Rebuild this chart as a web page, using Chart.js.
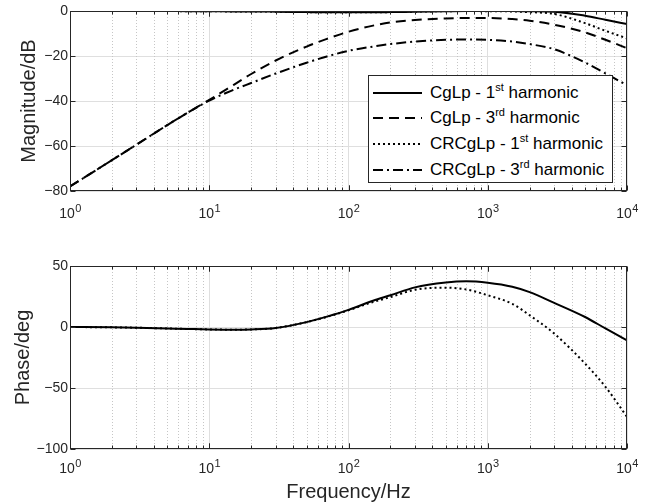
<!DOCTYPE html>
<html>
<head>
<meta charset="utf-8">
<script src="https://cdn.jsdelivr.net/npm/chart.js@4.4.0/dist/chart.umd.min.js"></script>
<style>
  html, body { margin: 0; padding: 0; background: #fff; }
  #wrap { position: relative; width: 646px; height: 504px; font-family: "Liberation Sans", Arial, sans-serif; }
  #magCanvas { position: absolute; left: 0; top: 0; }
  #phaseCanvas { position: absolute; left: 0; top: 240px; }
  #legend { position: absolute; left: 368px; top: 75px; width: 245px; height: 108px; box-sizing: border-box;
            border: 1px solid #262626; background: #fff; }
  .row { position: absolute; left: 4px; height: 26px; display: flex; align-items: center;
         font-size: 17px; color: #000; white-space: nowrap; }
  .row svg { margin-right: 8px; }
  .row sup { font-size: 11px; vertical-align: 0; position: relative; top: -7px; }
</style>
</head>
<body>
<div id="wrap">
  <canvas id="magCanvas" width="646" height="240"></canvas>
  <canvas id="phaseCanvas" width="646" height="264"></canvas>
  <div id="legend"></div>
</div>
<script>
// Bode plot: CgLp vs CRCgLp, 1st and 3rd harmonic

// frequencies the curves were read at (Hz)
const freqHz = [1, 2, 3, 5, 7, 10, 15, 20, 30, 50, 70, 100, 150, 200, 300, 500, 700, 1000, 1500, 2000, 3000, 5000, 7000, 10000];

// magnitude (dB)
const magCgLp1   = [0, 0, 0, 0, -0.1, -0.1, -0.2, -0.2, -0.3, -0.5, -0.6, -0.6, -0.6, -0.5, -0.3, -0.1, 0, 0, 0, -0.1, -0.3, -2.1, -3.9, -5.8];
const magCgLp3   = [-78, -66.3, -59.4, -50.7, -45.2, -39.5, -32.8, -28, -22, -15.8, -12.4, -9.2, -6.5, -5.1, -4, -3.3, -3.1, -3.1, -3.6, -4.3, -6.1, -9.5, -12.8, -16.5];
const magCRCgLp1 = [0, 0, 0, 0, -0.1, -0.1, -0.2, -0.2, -0.3, -0.5, -0.6, -0.6, -0.6, -0.5, -0.3, -0.1, 0, -0.1, -0.2, -0.5, -1.3, -5.4, -8.8, -12.2];
const magCRCgLp3 = [-78, -66.3, -59.4, -50.7, -45.2, -39.8, -35, -32, -27.8, -23, -20.2, -17.7, -15.8, -14.7, -13.6, -12.8, -12.7, -12.8, -13.6, -14.7, -17, -22.9, -27.7, -33];

// phase (deg)
const phaseCgLp1   = [0, -0.3, -0.6, -1.2, -1.6, -2, -2.2, -2, -0.8, 4, 8.5, 14, 21.5, 26, 32.5, 36.5, 37.5, 36.3, 33, 28.6, 19.8, 8.2, -1.2, -11];
const phaseCRCgLp1 = [0, -0.3, -0.6, -1.2, -1.6, -2, -2.2, -2, -0.8, 4, 8.3, 13.7, 20.5, 24.5, 30.5, 32.2, 30.8, 26, 19, 9.6, -5.4, -30, -49, -73.6];

// legend entries and x tick labels (10^n)
const legendLabels = ['CgLp - 1<sup>st</sup> harmonic', 'CgLp - 3<sup>rd</sup> harmonic',
                      'CRCgLp - 1<sup>st</sup> harmonic', 'CRCgLp - 3<sup>rd</sup> harmonic'];
const xTickExponents = [0, 1, 2, 3, 4];
const decades = [1, 10, 100, 1000];

const axisColor = '#262626';
const majorGrid = '#dfdfdf';
const minorGrid = '#c6c6c6';
const FONT = '"Liberation Sans", Arial, sans-serif';

const styles = {
    solid:   [],
    dashed:  [10, 6],
    dotted:  [2, 3],
    dashdot: [10, 4, 2, 4]
};

Chart.defaults.font.family = FONT;
Chart.defaults.color = axisColor;

const toPoints = vals => freqHz.map((f, i) => ({ x: f, y: vals[i] }));

function lineSet(label, vals, dash) {
    return {
        label,
        data: toPoints(vals),
        borderColor: '#000',
        backgroundColor: 'transparent',
        borderWidth: 2,
        borderDash: dash,
        pointRadius: 0,
        cubicInterpolationMode: 'monotone'
    };
}

function isDecade(v) {
    const e = Math.log10(v);
    return Math.abs(e - Math.round(e)) < 1e-9;
}

// MATLAB-like axes: dotted minor grid, box, inward ticks, 10^n labels
const matlabAxes = {
    id: 'matlabAxes',
    beforeDatasetsDraw(chart) {
        const { ctx, chartArea: a, scales: { x } } = chart;
        ctx.save();
        ctx.strokeStyle = minorGrid;
        ctx.lineWidth = 1;
        ctx.setLineDash([1, 2]);
        decades.forEach(d => {
            for (let m = 2; m <= 9; m++) {
                const px = Math.round(x.getPixelForValue(d * m)) + 0.5;
                ctx.beginPath();
                ctx.moveTo(px, a.top);
                ctx.lineTo(px, a.bottom);
                ctx.stroke();
            }
        });
        ctx.restore();
    },
    afterDraw(chart, args, opts) {
        const { ctx, chartArea: a, scales: { x, y } } = chart;
        ctx.save();
        ctx.strokeStyle = axisColor;
        ctx.lineWidth = 1;
        ctx.setLineDash([]);
        const L = Math.round(a.left) + 0.5, R = Math.round(a.right) - 0.5;
        const T = Math.round(a.top) + 0.5, B = Math.round(a.bottom) - 0.5;
        ctx.strokeRect(L, T, R - L, B - T);

        // x ticks, inward on bottom and top
        decades.forEach(d => {
            for (let m = 1; m <= 10; m++) {
                const v = d * m;
                const px = Math.round(x.getPixelForValue(v)) + 0.5;
                const len = isDecade(v) ? 5 : 3;
                ctx.beginPath();
                ctx.moveTo(px, B); ctx.lineTo(px, B - len);
                ctx.moveTo(px, T); ctx.lineTo(px, T + len);
                ctx.stroke();
            }
        });
        // y ticks, inward on left and right
        y.ticks.forEach(t => {
            const py = Math.round(y.getPixelForValue(t.value)) + 0.5;
            ctx.beginPath();
            ctx.moveTo(L, py); ctx.lineTo(L + 5, py);
            ctx.moveTo(R, py); ctx.lineTo(R - 5, py);
            ctx.stroke();
        });

        // x tick labels with superscript exponent
        ctx.fillStyle = axisColor;
        ctx.textAlign = 'left';
        ctx.textBaseline = 'alphabetic';
        const base = a.bottom + opts.labelOffset;
        xTickExponents.forEach(e => {
            const px = x.getPixelForValue(Math.pow(10, e));
            ctx.font = '14px ' + FONT;
            const wb = ctx.measureText('10').width;
            ctx.font = '11px ' + FONT;
            const we = ctx.measureText(String(e)).width;
            const left = px - (wb + we) / 2;
            ctx.font = '14px ' + FONT;
            ctx.fillText('10', left, base);
            ctx.font = '11px ' + FONT;
            ctx.fillText(String(e), left + wb + 0.5, base - 6);
        });
        ctx.restore();
    }
};

const minusLabel = v => (v < 0 ? '\u2212' + Math.abs(v) : String(v));

function xScale(height, title) {
    return {
        type: 'logarithmic',
        min: 1,
        max: 10000,
        ticks: { display: false, autoSkip: false },
        grid: {
            drawTicks: false,
            color: ctx => (ctx.tick && isDecade(ctx.tick.value)) ? majorGrid : 'transparent'
        },
        border: { display: false },
        title: title ? { display: true, text: title, font: { size: 20 }, color: axisColor, padding: 0 } : { display: false },
        afterFit: s => { s.height = height; }
    };
}

function yScale(min, max, step, width, title) {
    return {
        min, max,
        ticks: { stepSize: step, padding: 2, font: { size: 14 }, color: axisColor, callback: minusLabel },
        grid: { drawTicks: false, color: majorGrid },
        border: { display: false },
        title: { display: true, text: title, font: { size: 20 }, color: axisColor, padding: 0 },
        afterFit: s => { s.width = width; }
    };
}

new Chart(document.getElementById('magCanvas'), {
    type: 'line',
    data: {
        datasets: [
            lineSet('CgLp - 1st harmonic', magCgLp1, styles.solid),
            lineSet('CgLp - 3rd harmonic', magCgLp3, styles.dashed),
            lineSet('CRCgLp - 1st harmonic', magCRCgLp1, styles.dotted),
            lineSet('CRCgLp - 3rd harmonic', magCRCgLp3, styles.dashdot)
        ]
    },
    options: {
        responsive: false,
        animation: false,
        layout: { padding: { left: 17, top: 11, right: 19, bottom: 0 } },
        plugins: { legend: { display: false }, tooltip: { enabled: false }, matlabAxes: { labelOffset: 27 } },
        scales: {
            x: xScale(49, null),
            y: yScale(-80, 0, 20, 53, 'Magnitude/dB')
        }
    },
    plugins: [matlabAxes]
});

new Chart(document.getElementById('phaseCanvas'), {
    type: 'line',
    data: {
        datasets: [
            lineSet('CgLp - 1st harmonic', phaseCgLp1, styles.solid),
            lineSet('CRCgLp - 1st harmonic', phaseCRCgLp1, styles.dotted)
        ]
    },
    options: {
        responsive: false,
        animation: false,
        layout: { padding: { left: 11, top: 26, right: 19, bottom: 0 } },
        plugins: { legend: { display: false }, tooltip: { enabled: false }, matlabAxes: { labelOffset: 24 } },
        scales: {
            x: xScale(55, 'Frequency/Hz'),
            y: yScale(-100, 50, 50, 59, 'Phase/deg')
        }
    },
    plugins: [matlabAxes]
});

// HTML legend (for the superscripts)
const legendDashes = [styles.solid, styles.dashed, styles.dotted, styles.dashdot];
const legendEl = document.getElementById('legend');
const rowTops = [4, 29, 55, 81];
legendLabels.forEach((lbl, i) => {
    const row = document.createElement('div');
    row.className = 'row';
    row.style.top = rowTops[i] + 'px';
    const dash = legendDashes[i].join(' ');
    row.innerHTML = '<svg width="49" height="6"><line x1="0" y1="3" x2="49" y2="3" stroke="#000" stroke-width="2"' +
        (dash ? ' stroke-dasharray="' + dash + '"' : '') + '/></svg><span>' + lbl + '</span>';
    legendEl.appendChild(row);
});
</script>
</body>
</html>
